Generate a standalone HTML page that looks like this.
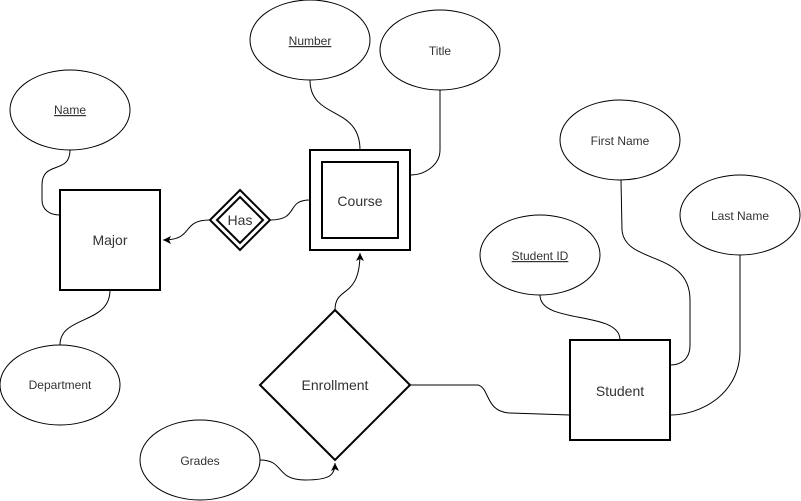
<!DOCTYPE html>
<html><head><style>
html,body{margin:0;padding:0;background:#fff;}
svg{display:block;}
text{font-family:"Liberation Sans",Arial,sans-serif;fill:#333;}
</style></head><body>
<svg width="801" height="501" viewBox="0 0 801 501" xmlns="http://www.w3.org/2000/svg">
<defs>
<marker id="a" markerWidth="10" markerHeight="10" refX="8" refY="4" orient="auto" markerUnits="userSpaceOnUse">
<path d="M0,0 L8,4 L0,8 L2,4 Z" fill="#000"/>
</marker>
</defs>
<g fill="none" stroke="#000" stroke-width="1">
<path d="M70,150 C70,175 42,160 42,185 L42,200 C42,210 50,215 60,215"/>
<path d="M60,345 C60,315 110,325 110,290"/>
<path d="M310,80 C310,120 360,105 360,150"/>
<path d="M440,90 L440,150 C440,165 425,175 410,175"/>
<path d="M310,200 C285,200 300,220 270,220"/>
<path d="M210,220 C180,220 195,240 163,240" marker-end="url(#a)"/>
<path d="M335,310 C335,285 360,300 360,253" marker-end="url(#a)"/>
<path d="M260,460 C285,460 275,480 305,480 C330,480 335,475 335,463" marker-end="url(#a)"/>
<path d="M410,385 L478,385 C490,388 485,412 510,413 L570,415"/>
<path d="M540,295 C540,325 620,310 620,340"/>
<path d="M621,180 L622,230 C625,265 690,250 690,300 L690,345 C690,360 680,365 670,365"/>
<path d="M740,255 L740,350 C740,395 700,415 670,415"/>
</g>
<g fill="#fff" stroke="#000" stroke-width="1">
<ellipse cx="70" cy="110" rx="60" ry="40"/>
<ellipse cx="60" cy="385" rx="60" ry="40"/>
<ellipse cx="310" cy="40" rx="60" ry="40"/>
<ellipse cx="440" cy="50" rx="60" ry="40"/>
<ellipse cx="620" cy="140" rx="60" ry="40"/>
<ellipse cx="740" cy="215" rx="60" ry="40"/>
<ellipse cx="540" cy="255" rx="60" ry="40"/>
<ellipse cx="200" cy="460" rx="60" ry="40"/>
</g>
<g fill="#fff" stroke="#000" stroke-width="2">
<rect x="60" y="190" width="100" height="100"/>
<rect x="310" y="150" width="100" height="100"/>
<rect x="322" y="162" width="76" height="76"/>
<rect x="570" y="340" width="100" height="100"/>
<path d="M240,190 L270,220 L240,250 L210,220 Z"/>
<path d="M240,197 L263,220 L240,243 L217,220 Z"/>
<path d="M335,310 L410,385 L335,460 L260,385 Z"/>
</g>
<g font-size="12" text-anchor="middle">
<text x="70" y="114" text-decoration="underline">Name</text>
<text x="60" y="389">Department</text>
<text x="310" y="45" text-decoration="underline">Number</text>
<text x="440" y="55">Title</text>
<text x="620" y="145">First Name</text>
<text x="740" y="220">Last Name</text>
<text x="540" y="260" text-decoration="underline">Student ID</text>
<text x="200" y="465">Grades</text>
</g>
<g font-size="14" text-anchor="middle">
<text x="110" y="245">Major</text>
<text x="360" y="206">Course</text>
<text x="620" y="396">Student</text>
<text x="240" y="225">Has</text>
<text x="335" y="390">Enrollment</text>
</g>
</svg>
</body></html>
